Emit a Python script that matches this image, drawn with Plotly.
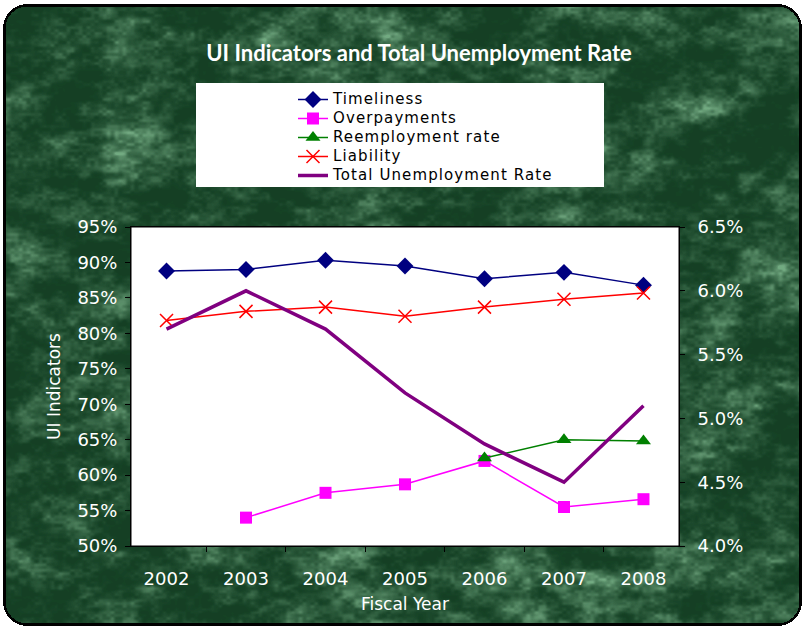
import base64, struct, zlib
import numpy as np
import plotly.graph_objects as go

# ---------------- data ----------------
years = ["2002", "2003", "2004", "2005", "2006", "2007", "2008"]
timeliness = [88.8, 89.0, 90.3, 89.5, 87.7, 88.6, 86.8]
overpayments = [None, 54.0, 57.5, 58.7, 62.0, 55.5, 56.6]
reemployment = [None, None, None, None, 62.4, 65.0, 64.8]
liability = [81.8, 83.1, 83.7, 82.4, 83.7, 84.8, 85.7]
total_unemp = [5.7, 6.0, 5.7, 5.2, 4.8, 4.5, 5.1]
series_names = ["Timeliness", "Overpayments", "Reemployment rate", "Liability",
                "Total Unemployment Rate"]

W, H = 804, 628
L, R, T, B = 131, 125, 227, 82
PW, PH = W - L - R, H - T - B


def px2paper(x, y):
    return (x - L) / PW, (H - B - y) / PH


# ---------------- background texture (decoration only) ----------------
def make_bg():
    rng = np.random.default_rng(11)
    yy, xx = np.mgrid[0:H, 0:W].astype(float)
    tex = np.zeros((H, W))
    for sx, sy, wgt in [(70, 50, 0.3), (30, 18, 0.3), (12, 7, 0.25), (4, 3, 0.15)]:
        gh, gw = int(H // sy) + 3, int(W // sx) + 3
        g = rng.random((gh, gw))
        fy, fx = yy / sy, xx / sx
        iy, ix = fy.astype(int), fx.astype(int)
        ty, tx = fy - iy, fx - ix
        ty = ty * ty * (3 - 2 * ty)
        tx = tx * tx * (3 - 2 * tx)
        a = g[iy, ix] * (1 - tx) + g[iy, ix + 1] * tx
        b = g[iy + 1, ix] * (1 - tx) + g[iy + 1, ix + 1] * tx
        tex += wgt * (a * (1 - ty) + b * ty)
    tex = (tex - tex.min()) / (tex.max() - tex.min())
    tex = np.clip((tex - 0.3) / 0.6, 0, 1) ** 1.8
    dark = np.array([20, 64, 36])
    light = np.array([115, 170, 130])
    rgb = dark[None, None, :] + (light - dark)[None, None, :] * tex[..., None]
    # rounded box
    x0, y0, x1, y1, r = 3, 4, 801, 625, 24
    cx, cy = (x0 + x1) / 2, (y0 + y1) / 2
    hx, hy = (x1 - x0) / 2 - r, (y1 - y0) / 2 - r
    qx = np.abs(xx - cx) - hx
    qy = np.abs(yy - cy) - hy
    sdf = np.hypot(np.maximum(qx, 0), np.maximum(qy, 0)) + np.minimum(np.maximum(qx, qy), 0) - r
    out = np.full((H, W, 3), 255.0)
    inside = sdf < -2.0
    border = (sdf >= -2.0) & (sdf < 0.5)
    out[inside] = rgb[inside]
    out[border] = 0
    img = (np.round(out / 3) * 3).clip(0, 255).astype(np.uint8)
    raw = b"".join(b"\x00" + img[i].tobytes() for i in range(H))

    def chunk(t, d):
        c = struct.pack(">I", len(d)) + t + d
        return c + struct.pack(">I", zlib.crc32(t + d) & 0xFFFFFFFF)

    png = b"\x89PNG\r\n\x1a\n" + chunk(b"IHDR", struct.pack(">IIBBBBB", W, H, 8, 2, 0, 0, 0))
    png += chunk(b"IDAT", zlib.compress(raw, 9)) + chunk(b"IEND", b"")
    return "data:image/png;base64," + base64.b64encode(png).decode()


def lname(s):
    return "<span style='font-size:15px;letter-spacing:1.1px'>" + s + "</span>"


fig = go.Figure()
fig.add_trace(go.Scatter(x=years, y=timeliness, name=lname(series_names[0]), mode="lines+markers",
                         line=dict(color="#000080", width=1.5),
                         marker=dict(symbol="diamond", size=13, color="#000080")))
fig.add_trace(go.Scatter(x=years, y=overpayments, name=lname(series_names[1]), mode="lines+markers",
                         line=dict(color="#FF00FF", width=1.5),
                         marker=dict(symbol="square", size=12, color="#FF00FF")))
fig.add_trace(go.Scatter(x=years, y=reemployment, name=lname(series_names[2]), mode="lines+markers",
                         line=dict(color="#008000", width=1.5),
                         marker=dict(symbol="triangle-up", size=13, color="#008000")))
fig.add_trace(go.Scatter(x=years, y=liability, name=lname(series_names[3]), mode="lines+markers",
                         line=dict(color="#FF0000", width=1.5),
                         marker=dict(symbol="x-thin-open", size=13, color="#FF0000",
                                     line=dict(color="#FF0000", width=1.5))))
fig.add_trace(go.Scatter(x=years, y=total_unemp, name=lname(series_names[4]), mode="lines",
                         line=dict(color="#800080", width=3.5), yaxis="y2"))

tick_font = dict(family="DejaVu Sans", size=18, color="white")
title_font = dict(family="DejaVu Sans", size=17, color="white")

lx0, ly1 = px2paper(196, 83)
lx1, ly0 = px2paper(604, 187)
bx0, by1 = px2paper(0, 0)
bx1, by0 = px2paper(W, H)

fig.update_layout(
    width=W, height=H, autosize=False,
    margin=dict(l=L, r=R, t=T, b=B, pad=0),
    paper_bgcolor="white", plot_bgcolor="white",
    title=dict(text="<b>UI Indicators and Total Unemployment Rate</b>",
               font=dict(family="Lato", size=22, color="white"),
               x=419 / W, xanchor="center", y=1 - 53 / H, yanchor="middle"),
    xaxis=dict(type="category", categoryorder="array", categoryarray=years,
               tickfont=tick_font, showgrid=False, zeroline=False,
               showline=True, linecolor="black", linewidth=1, mirror=True,
               ticks="outside", tickson="boundaries", ticklen=5, tickcolor="black",
               ticklabelstandoff=16,
               title=dict(text="Fiscal Year", font=title_font, standoff=10)),
    yaxis=dict(range=[50, 95], dtick=5, ticksuffix="%", tickfont=tick_font,
               showgrid=False, zeroline=False, showline=True, linecolor="black", linewidth=1,
               mirror=True, ticks="outside", ticklen=5, tickcolor="black",
               ticklabelstandoff=4,
               title=dict(text="UI Indicators", font=title_font, standoff=12)),
    yaxis2=dict(range=[4.0, 6.5], dtick=0.5, tickformat=".1f", ticksuffix="%", tickfont=tick_font,
                overlaying="y", side="right", showgrid=False, zeroline=False,
                ticks="outside", ticklen=5, tickcolor="black", ticklabelstandoff=9),
    legend=dict(x=(293 - L) / PW, y=px2paper(0, 85)[1], xanchor="left", yanchor="top",
                bgcolor="rgba(0,0,0,0)", font=dict(family="DejaVu Sans", size=12, color="black"),
                tracegroupgap=0, itemwidth=30),
    images=[dict(source=make_bg(), xref="paper", yref="paper", x=bx0, y=by1,
                 sizex=bx1 - bx0, sizey=by1 - by0, xanchor="left", yanchor="top",
                 sizing="stretch", layer="below")],
    shapes=[
        dict(type="rect", xref="paper", yref="paper", x0=0, y0=0, x1=1, y1=1,
             fillcolor="white", line=dict(color="black", width=1), layer="below"),
        dict(type="rect", xref="paper", yref="paper", x0=lx0, y0=ly0, x1=lx1, y1=ly1,
             fillcolor="white", line=dict(width=0), layer="below"),
    ],
)

fig.write_html("out.html")
